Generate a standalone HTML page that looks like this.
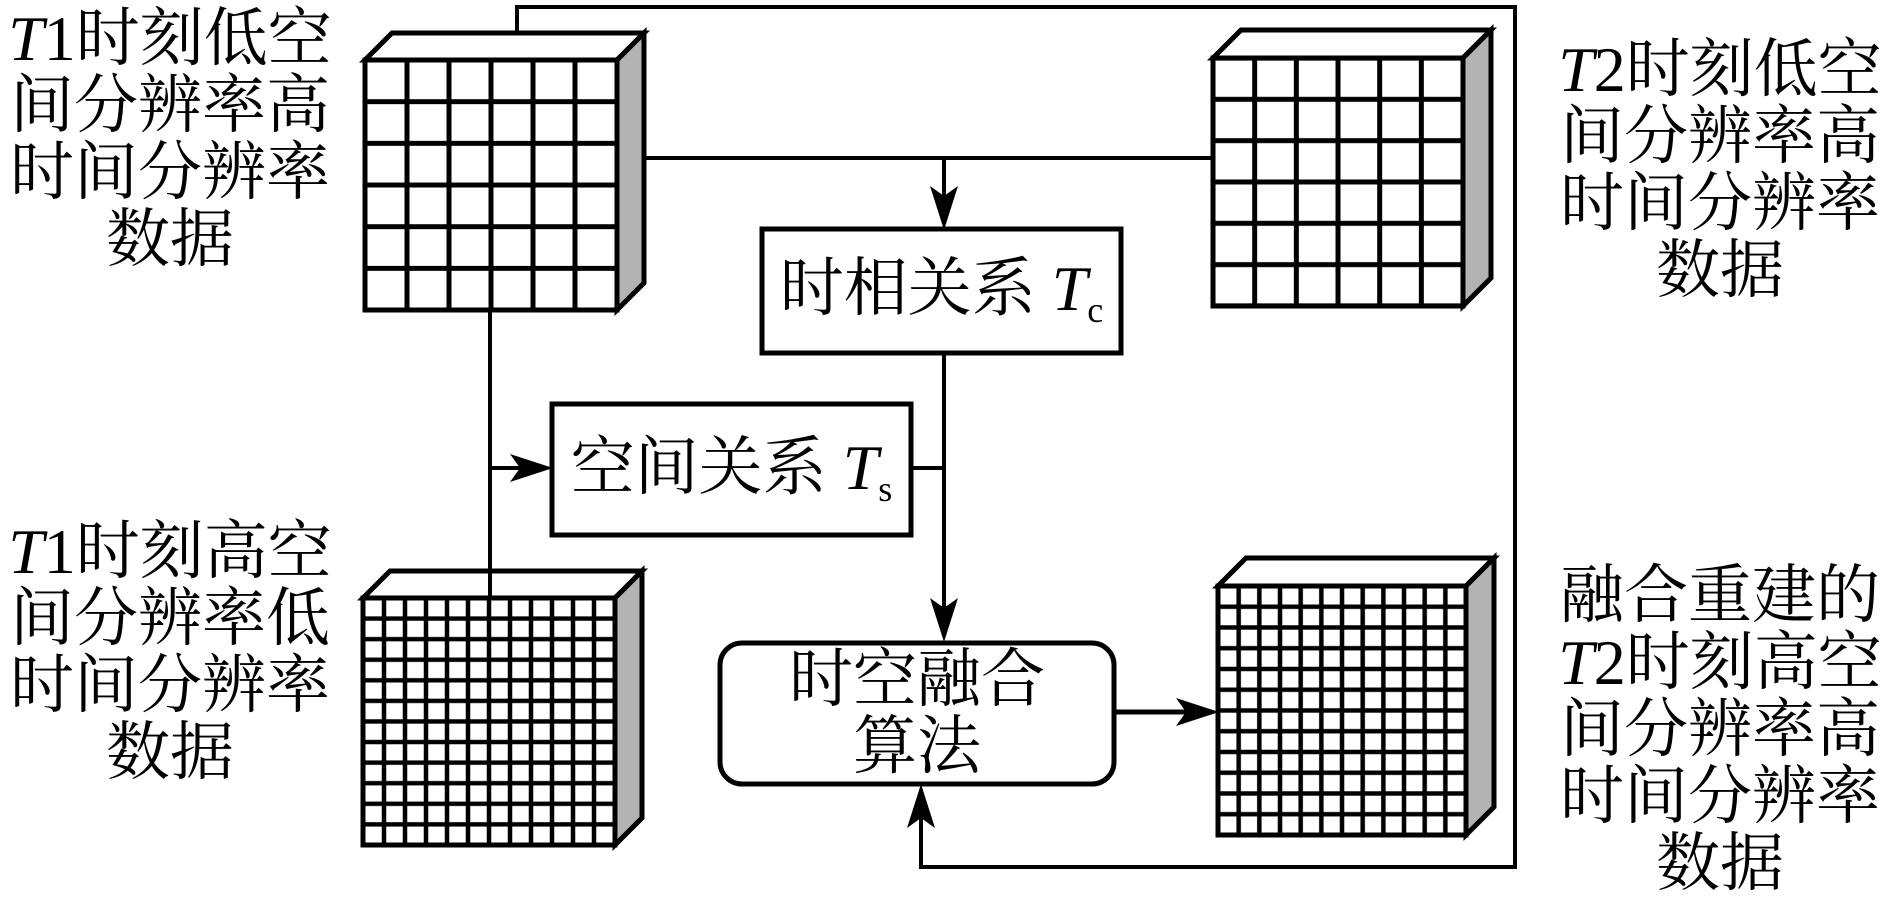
<!DOCTYPE html>
<html><head><meta charset="utf-8"><style>
html,body{margin:0;padding:0;background:#fff;width:1890px;height:898px;overflow:hidden}
.t{position:absolute;font-family:"Liberation Serif","Noto Serif CJK SC","Noto Serif CJK JP",serif;font-size:64px;line-height:67px;text-align:center;color:#000;white-space:nowrap}
.t i{font-family:"Liberation Serif",serif}
</style></head><body>
<svg width="1890" height="898" style="position:absolute;left:0;top:0">
<defs>
<pattern id="g1" patternUnits="userSpaceOnUse" x="344" y="39.17" width="42" height="41.67"><path d="M21 0V41.67M0 20.83H42" stroke="#000" stroke-width="5"/></pattern>
<pattern id="g2" patternUnits="userSpaceOnUse" x="1192.17" y="37.33" width="41.67" height="41.33"><path d="M20.83 0V41.33M0 20.67H41.67" stroke="#000" stroke-width="5"/></pattern>
<pattern id="g3" patternUnits="userSpaceOnUse" x="352.5" y="587.7" width="21" height="20.58"><path d="M10.5 0V20.58M0 10.29H21" stroke="#000" stroke-width="4.5"/></pattern>
<pattern id="g4" patternUnits="userSpaceOnUse" x="1207.67" y="575.6" width="20.67" height="20.75"><path d="M10.33 0V20.75M0 10.37H20.67" stroke="#000" stroke-width="4.5"/></pattern>
</defs>
<g fill="none" stroke="#000" stroke-width="4">
<path d="M517 34V7H1515V867H921V790"/>
<path d="M617 158H1213"/>
<path d="M944 158V200"/>
<path d="M944 353V615"/>
<path d="M911 468H944"/>
<path d="M490 310V598"/>
<path d="M490 468H525"/>
<path d="M1114 712H1190" stroke-width="5"/>
</g>
<g fill="#000">
<path d="M944 230L930 186L944 196L958 186Z"/>
<path d="M944 642L930 598L944 608L958 598Z"/>
<path d="M921 784L907 828L921 818L935 828Z"/>
<path d="M553 468L510 454L520 468L510 482Z"/>
<path d="M1219 712L1176 698L1186 712L1176 726Z"/>
</g>
<g stroke="#000" stroke-width="5" stroke-linejoin="miter">
<polygon points="365,60 392,33 644,33 617,60" fill="#fff"/>
<polygon points="617,60 644,33 644,283 617,310" fill="#b3b3b3"/>
<rect x="365" y="60" width="252" height="250" fill="#fff"/>
<rect x="365" y="60" width="252" height="250" fill="url(#g1)"/>

<polygon points="1213,58 1241,30 1491,30 1463,58" fill="#fff"/>
<polygon points="1463,58 1491,30 1491,278 1463,306" fill="#b3b3b3"/>
<rect x="1213" y="58" width="250" height="248" fill="#fff"/>
<rect x="1213" y="58" width="250" height="248" fill="url(#g2)"/>

<polygon points="363,598 390,571 642,571 615,598" fill="#fff"/>
<polygon points="615,598 642,571 642,818 615,845" fill="#b3b3b3"/>
<rect x="363" y="598" width="252" height="247" fill="#fff"/>
<rect x="363" y="598" width="252" height="247" fill="url(#g3)"/>

<polygon points="1218,586 1246,558 1494,558 1466,586" fill="#fff"/>
<polygon points="1466,586 1494,558 1494,807 1466,835" fill="#b3b3b3"/>
<rect x="1218" y="586" width="248" height="249" fill="#fff"/>
<rect x="1218" y="586" width="248" height="249" fill="url(#g4)"/>
</g>
<path d="M490 540V598" stroke="#000" stroke-width="4"/>
<g fill="#fff" stroke="#000" stroke-width="5">
<rect x="762" y="229" width="359" height="124"/>
<rect x="552" y="404" width="359" height="131"/>
<rect x="720" y="643" width="394" height="141" rx="22"/>
</g>
</svg>
<div class="t" style="left:0;top:5px;width:340px"><i>T</i>1时刻低空<br>间分辨率高<br>时间分辨率<br>数据</div>
<div class="t" style="left:1550px;top:36px;width:340px"><i>T</i>2时刻低空<br>间分辨率高<br>时间分辨率<br>数据</div>
<div class="t" style="left:0;top:518px;width:340px"><i>T</i>1时刻高空<br>间分辨率低<br>时间分辨率<br>数据</div>
<div class="t" style="left:1550px;top:562px;width:340px">融合重建的<br><i>T</i>2时刻高空<br>间分辨率高<br>时间分辨率<br>数据</div>
<div class="t" style="left:762px;top:255px;width:359px;font-size:64px">时相关系 <i>T</i><sub style="font-size:36px;vertical-align:-12px">c</sub></div>
<div class="t" style="left:552px;top:434px;width:359px;font-size:64px">空间关系 <i>T</i><sub style="font-size:36px;vertical-align:-12px">s</sub></div>
<div class="t" style="left:720px;top:646px;width:394px;font-size:64px">时空融合<br>算法</div>
</body></html>
